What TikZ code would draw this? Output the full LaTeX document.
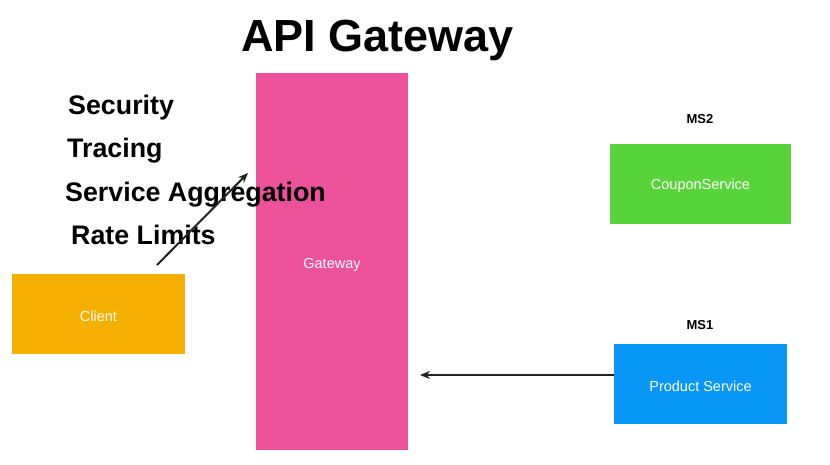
\documentclass[tikz,border=0pt]{standalone}
\usepackage{fontspec}
\setmainfont{Liberation Sans}
\usetikzlibrary{arrows.meta}
\definecolor{gwpink}{HTML}{EE519C}
\definecolor{clorange}{HTML}{F5AF00}
\definecolor{cpgreen}{HTML}{58D33A}
\definecolor{pdblue}{HTML}{0896F7}
\definecolor{arrowgray}{HTML}{222222}
\tikzset{
  box/.style={draw=none, inner sep=0pt, text=white, font=\fontsize{14.5}{16}\selectfont},
  feature/.style={anchor=base west, inner sep=0pt, font=\bfseries\fontsize{26.8}{30}\selectfont},
  mslabel/.style={anchor=base, inner sep=0pt, font=\bfseries\fontsize{13}{15}\selectfont},
  conn/.style={draw=arrowgray, -{Stealth[length=10pt,width=8pt]}}
}
\begin{document}
\begin{tikzpicture}[x=1pt,y=-1pt]
\useasboundingbox (0,0) rectangle (830,464);
\fill[white] (0,0) rectangle (830,464);
% title
\node[anchor=base, inner sep=0pt, font=\bfseries\fontsize{45}{50}\selectfont] (title) at (377.5,51) {API Gateway};
% boxes
\fill[gwpink] (256,73) rectangle (408,450);
\node[box] (gateway) at (332,265) {Gateway};
\fill[clorange] (12,274) rectangle (185,354);
\node[box] (client) at (98.5,316) {Client};
\fill[cpgreen] (610,144) rectangle (791,224);
\node[box] (coupon) at (700.5,186) {CouponService};
\fill[pdblue] (614,344) rectangle (787,424);
\node[box] (product) at (700.5,386) {Product Service};
\coordinate (productW) at (614,375);
% MS labels
\node[mslabel] (ms2) at (700,123) {MS2};
\node[mslabel] (ms1) at (700,329) {MS1};
% features
\node[feature] (t1) at (68,114) {Security};
\node[feature] (t2) at (67,157) {Tracing};
\node[feature] (t3) at (65,201) {Service Aggregation};
\node[feature] (t4) at (71,244) {Rate Limits};
% connectors
\coordinate (ca) at (157,265);
\coordinate (cb) at (248,173);
\draw[conn, line width=2pt] (ca) -- (cb);
\coordinate (pa) at (420,375);
\draw[conn, line width=2.4pt] (productW) -- (pa);
\end{tikzpicture}
\end{document}
